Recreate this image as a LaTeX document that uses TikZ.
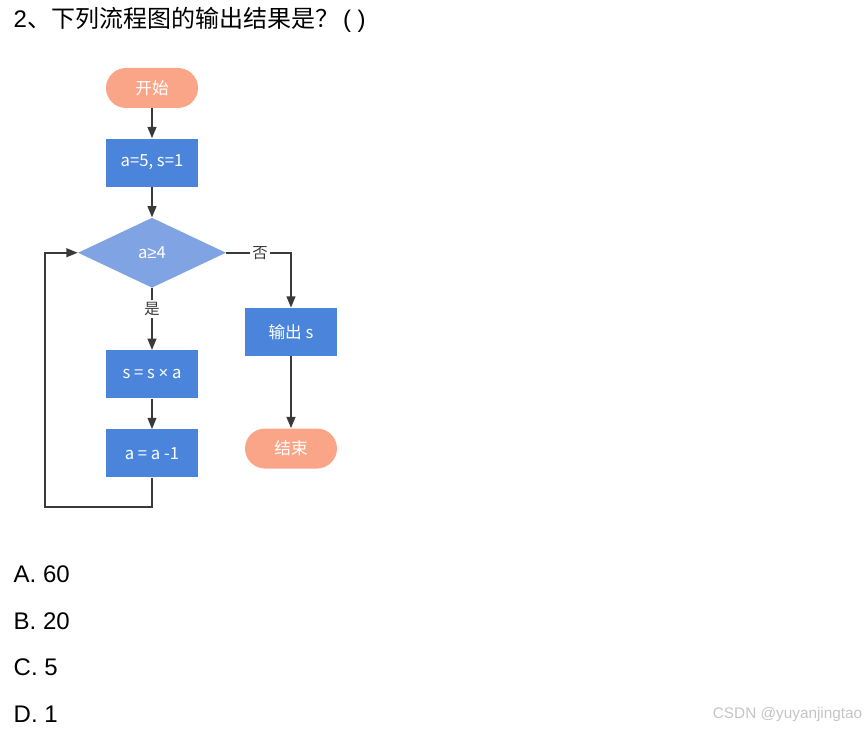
\documentclass[tikz,border=0pt]{standalone}
\usepackage{fontspec}
\setmainfont{Liberation Sans}
\newfontfamily\cjk{Noto Sans CJK SC}
\usetikzlibrary{arrows.meta, positioning, shapes.geometric}
\definecolor{salmon}{HTML}{FBA588}
\definecolor{azul}{HTML}{4A85DB}
\definecolor{azulclaro}{HTML}{80A3E3}
\definecolor{linea}{HTML}{3A3A3A}
\definecolor{marca}{HTML}{C4C4C4}

\begin{document}
\begin{tikzpicture}[x=0.75pt, y=-0.75pt, font=\cjk\fontsize{12.5}{14}\selectfont,
  terminal/.style={rectangle, rounded corners=15pt, fill=salmon, text=white,
    minimum width=69pt, minimum height=30pt},
  proceso/.style={rectangle, fill=azul, text=white,
    minimum width=69pt, minimum height=36pt},
  decision/.style={diamond, fill=azulclaro, text=white,
    minimum width=111pt, minimum height=52.5pt, inner sep=0pt},
  etiqueta/.style={fill=white, inner sep=1.5pt, text=linea,
    font=\cjk\fontsize{11.5}{13}\selectfont},
  flecha/.style={-{Triangle[length=8.5pt, width=6.5pt]}, line width=1.5pt, linea},
  opcion/.style={anchor=west, font=\fontsize{18}{20}\selectfont}]
  \useasboundingbox (0,0) rectangle (868,730);
  \node[anchor=west, font=\fontsize{18}{20}\selectfont] (titulo) at (9,20)
    {2{\cjk 、下列流程图的输出结果是？}\,( )};
  \node[terminal] (inicio) at (152,88) {开始};
  \node[proceso, below=22.5pt of inicio] (datos) {a=5, s=1};
  \node[decision, below=23pt of datos] (cond) {a{\rmfamily ≥}4};
  \node[proceso, below=46.5pt of cond] (mult) {s = s {\rmfamily ×} a};
  \node[proceso, below=23pt of mult] (resta) {a = a -1};
  \node[proceso] (salida) at (291,332) {输出 s};
  \node[terminal, below=54pt of salida] (fin) {结束};
  \coordinate (retorno) at (45,507);
  \draw[flecha] (inicio) -- (datos);
  \draw[flecha] (datos) -- (cond);
  \draw[flecha] (cond.south) -- node[etiqueta, pos=0.34] {是} (mult.north);
  \draw[flecha] (mult) -- (resta);
  \draw[flecha] (resta.south) |- (retorno) |- (cond.west);
  \draw[flecha] (cond.east) -| node[etiqueta, pos=0.26] {否} (salida.north);
  \draw[flecha] (salida) -- (fin);
  \node[opcion] (opa) at (9,574) {A. 60};
  \node[opcion] (opb) at (9,621) {B. 20};
  \node[opcion] (opc) at (9,667) {C. 5};
  \node[opcion] (opd) at (9,714) {D. 1};
  \node[anchor=east, text=marca, font=\fontsize{11.5}{13}\selectfont] (firma) at (867,715)
    {CSDN @yuyanjingtao};
\end{tikzpicture}
\end{document}
